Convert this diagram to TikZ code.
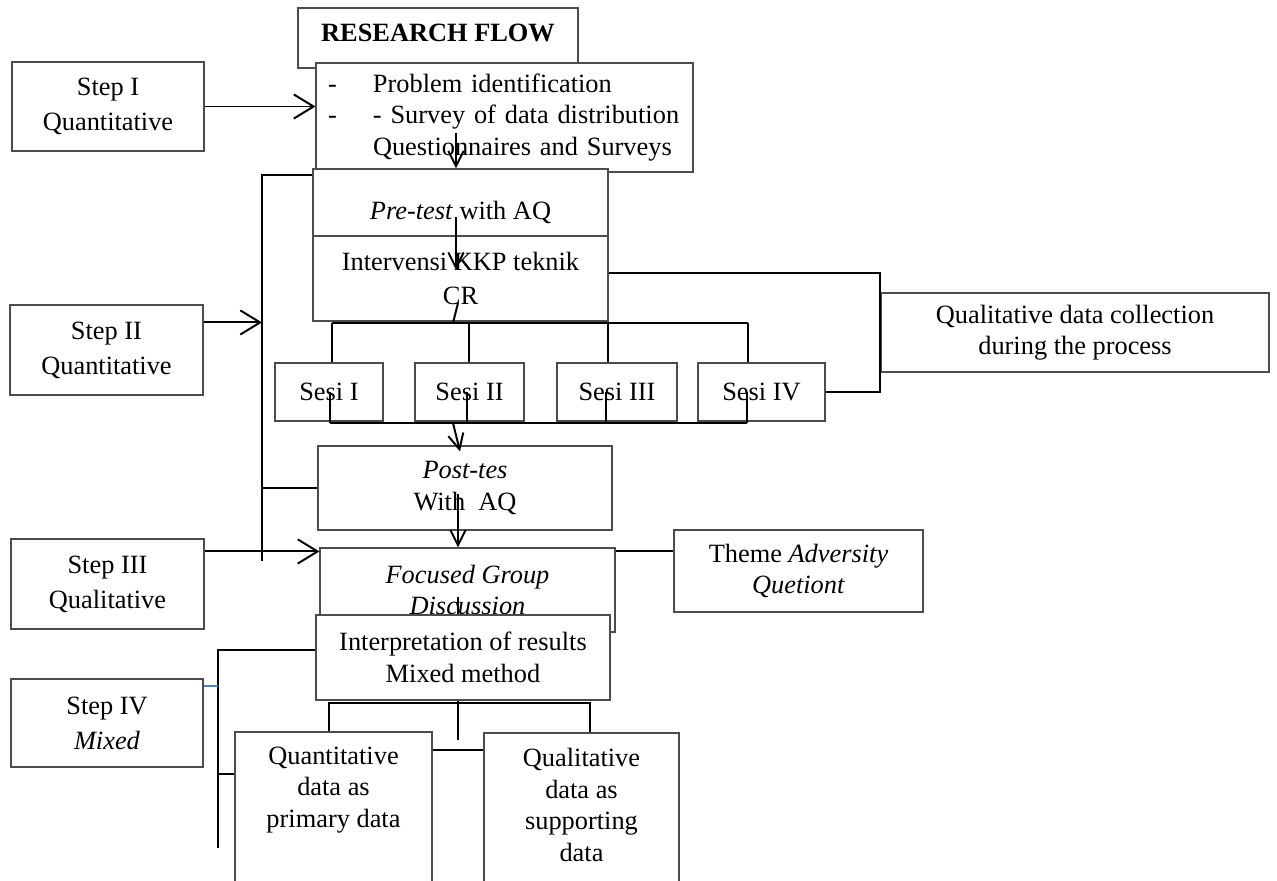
\documentclass[tikz,border=0pt]{standalone}
\usepackage{fontspec}
\setmainfont{Liberation Serif}
\usetikzlibrary{positioning,calc,arrows.meta}
\newlength{\pxu}
\setlength{\pxu}{0.455pt}
\definecolor{stepblue}{HTML}{4F81BD}

\begin{document}
\begin{tikzpicture}[
    x=\pxu, y=-\pxu,
    every node/.style={font=\fontsize{12}{14.3}\selectfont},
    wh/.style 2 args={minimum width=#1\pxu, minimum height=#2\pxu},
    box/.style={rectangle, draw=black!70, line width=0.5pt, fill=white,
                align=center, inner sep=0pt},
    stepbox/.style={box, font=\fontsize{12}{16}\selectfont},
    link/.style={line width=0.9pt, black},
    arrow/.style={link, -{Straight Barb[length=7pt,width=7pt]}},
    bigarrow/.style={link, -{Straight Barb[length=9pt,width=11pt]}},
]
\useasboundingbox (0,0) rectangle (1277,881);
\clip (0,0) rectangle (1277,881);

% left column
\node[stepbox, wh={192}{89}] (step1) at (108,106.5) {Step I\\Quantitative};
\node[stepbox, wh={193}{90}] (step2) at (106.5,350) {Step II\\Quantitative};
\node[stepbox, wh={193}{90}] (step3) at (107.5,584) {Step III\\Qualitative};
\node[stepbox, wh={192}{88}] (step4) at (107,723) {Step IV\\\textit{Mixed}};

% main flow
\node[box, wh={280}{60}, text depth=4.6pt] (flow) at (438,38) {\textbf{RESEARCH FLOW}};
\node[box, wh={377}{109}, text width=353\pxu, align=left] (problem) at (504.5,117.5)
    {\makebox[45\pxu][l]{-}Problem identification\\
     \makebox[45\pxu][l]{-}- Survey of data distribution\\
     \hspace*{45\pxu}Questionnaires and Surveys};
\node[box, wh={295}{67}, text height=17.5pt] (pretest) at (460.5,202.5) {\textit{Pre-test} with AQ};
\node[box, wh={295}{85}, font=\fontsize{12}{15.5}\selectfont] (interv) at (460.5,278.5) {Intervensi KKP teknik\\CR};
\node[box, wh={388}{79}] (qualcoll) at (1075,332.5) {Qualitative data collection\\during the process};
\node[box, wh={108}{58}] (sesi1) at (329,392) {Sesi I};
\node[box, wh={109}{58}] (sesi2) at (469.5,392) {Sesi II};
\node[box, wh={120}{58}] (sesi3) at (617,392) {Sesi III};
\node[box, wh={127}{58}] (sesi4) at (761.5,392) {Sesi IV};
\node[box, wh={294}{84}] (postes) at (465,488) {\textit{Post-tes}\\With~~AQ};
\node[box, wh={249}{82}] (theme) at (798.5,571) {Theme \textit{Adversity}\\\textit{Quetiont}};
\node[box, wh={295}{84}] (fgd) at (467.5,590) {\textit{Focused Group}\\\textit{Discussion}};
\node[box, wh={294}{85}] (interp) at (463,657.5) {Interpretation of results\\Mixed method};
\node[box, wh={197}{228}] (quantbox) at (333.5,846) {};
\node[box, wh={195}{227}] (qualbox) at (581.5,846.5) {};
\node[align=center, inner sep=0pt] (quanttext) at (333.5,790) {Quantitative\\data as\\primary data};
\node[align=center, inner sep=0pt] (qualtext) at (581.5,805) {Qualitative\\data as\\supporting\\data};

% step I and the top of the flow
\draw[bigarrow] (step1.east) -- (step1.east -| problem.west);
\coordinate (a1) at (456,133);
\draw[arrow] (a1) -- (a1 |- pretest.north);
\coordinate (a2) at (456,217);
\coordinate (a2end) at (456,270);
\draw[arrow] (a2) -- (a2end);

% bracket of step II
\coordinate (brk2 top) at (262,175);
\coordinate (brk2 bot) at (262,561);
\draw[link] (pretest.west |- brk2 top) -- (brk2 top) -- (brk2 bot);
\draw[link] (brk2 bot |- postes.west) -- (postes.west);
\draw[bigarrow] ($(step2.north east)+(0,18)$) coordinate (s2) -- (s2 -| brk2 top);

% sessions
\coordinate (cr) at (458,303);
\coordinate (busT) at (453,323);
\coordinate (busT W) at (332,323);
\coordinate (busT E) at (748,323);
\draw[link] (cr) -- (busT);
\draw[link] (busT W) -- (busT E);
\foreach \x/\s in {332/sesi1, 469/sesi2, 608/sesi3, 748/sesi4}
    \draw[link] (\x,323) -- (\s.north -| \x,0);
\coordinate (busB W) at (330,423);
\coordinate (busB E) at (747,423);
\draw[link] (busB W) -- (busB E);
\foreach \x/\s in {330/sesi1, 467/sesi2, 606/sesi3, 747/sesi4}
    \draw[link] (\x,423) -- (\s.center -| \x,0);
\coordinate (busB mid) at (453,423);
\draw[arrow] (busB mid) -- ($(postes.north)+(-5,6)$);
\draw[link] ($(interv.north east)+(0,38)$) coordinate (iv) -- (iv -| qualcoll.west) |- (sesi4.east);

% step III
\coordinate (a3) at (458,494);
\draw[arrow] (a3) -- (a3 |- fgd.north);
\draw[bigarrow] ($(step3.north east)+(0,13)$) coordinate (s3) -- (s3 -| fgd.west);
\draw[link] ($(fgd.north east)+(0,4)$) coordinate (f) -- (f -| theme.west);
\coordinate (a4) at (458,597);
\draw[link] (a4) -- (a4 |- interp.north);

% step IV
\coordinate (brk4 top) at (218,650);
\coordinate (brk4 bot) at (218,848);
\draw[link] (interp.west |- brk4 top) -- (brk4 top) -- (brk4 bot);
\draw[line width=0.9pt, stepblue] ($(step4.north east)+(0,8)$) coordinate (s4) -- (s4 -| brk4 top);
\draw[link] ($(quantbox.north west)+(0,43)$) coordinate (q) -- (q -| brk4 top);
\coordinate (busI W) at (329,703);
\coordinate (busI E) at (590,703);
\draw[link] (busI W |- quantbox.north) -- (busI W) -- (busI E) -- (busI E |- qualbox.north);
\coordinate (a5) at (458,740);
\draw[link] (a5 |- interp.south) -- (a5);
\draw[link] ($(quantbox.north east)+(0,19)$) coordinate (qq) -- (qq -| qualbox.west);
\end{tikzpicture}
\end{document}
